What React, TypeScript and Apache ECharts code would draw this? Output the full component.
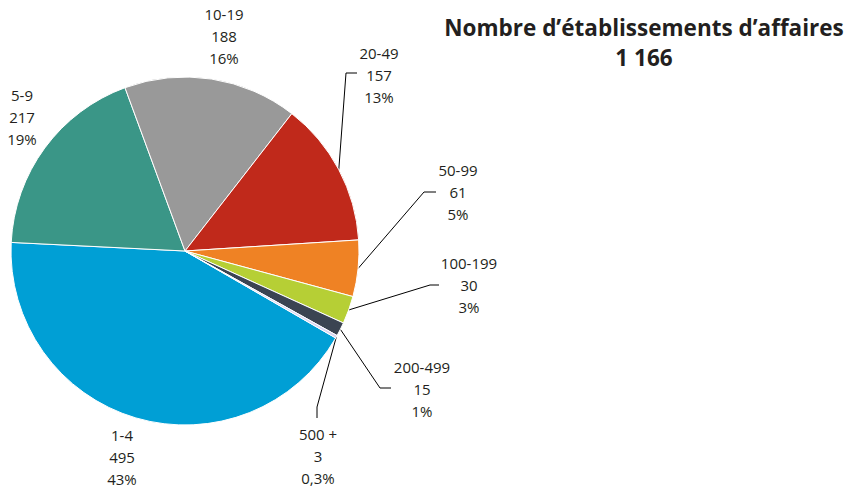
import React, { useEffect, useRef } from "react";
import * as echarts from "echarts";

const categories = ["1-4", "5-9", "10-19", "20-49", "50-99", "100-199", "200-499", "500 +"];
const values = [495, 217, 188, 157, 61, 30, 15, 3];
const pctLabels = ["43%", "19%", "16%", "13%", "5%", "3%", "1%", "0,3%"];
const colors = ["#009fd5", "#3a9687", "#999999", "#c0291b", "#ef8224", "#b6cf35", "#3b4452", "#d8d6f2"];
const titleText = "Nombre d’établissements d’affaires";
const totalText = "1 166";

// label placement (layout only)
const labelPos: Array<{ x: number; y: number; line?: number[][] }> = [
  { x: 122, y: 457 },
  { x: 22, y: 117 },
  { x: 224, y: 36 },
  { x: 379, y: 75, line: [[346, 73], [357, 73]] },
  { x: 458, y: 192, line: [[424, 192], [436, 192]] },
  { x: 469, y: 285, line: [[430, 285], [439, 285]] },
  { x: 422, y: 389, line: [[380, 388], [391, 388]] },
  { x: 318, y: 456, line: [[317, 407], [317, 418]] },
];

export default function App() {
  const ref = useRef<HTMLDivElement>(null);
  useEffect(() => {
    document.body.style.margin = "0";
    const chart = echarts.init(ref.current!, null, { renderer: "svg" });
    const font = "'Open Sans', sans-serif";
    chart.setOption({
      animation: false,
      title: {
        text: titleText + "\n" + totalText,
        left: 639,
        top: 7,
        textAlign: "center",
        textStyle: { fontFamily: font, fontWeight: "bold", fontSize: 22.5, lineHeight: 30, color: "#231f20" },
      },
      series: [
        {
          type: "pie",
          center: [185, 251],
          radius: [0, 174],
          startAngle: 330,
          clockwise: true,
          avoidLabelOverlap: false,
          itemStyle: { borderColor: "#ffffff", borderWidth: 1 },
          label: {
            show: true,
            position: "outside",
            fontFamily: font,
            fontSize: 15,
            lineHeight: 22,
            color: "#231f20",
            align: "center",
            formatter: (p: any) => `${p.name}\n${p.value}\n${pctLabels[p.dataIndex]}`,
          },
          labelLine: { show: true, lineStyle: { color: "#000000", width: 1 }, length: 10, length2: 10 },
          labelLayout: (params: any) => {
            const lp = labelPos[params.dataIndex];
            const res: any = { x: lp.x, y: lp.y, align: "center", verticalAlign: "middle" };
            if (lp.line && params.labelLinePoints) {
              res.labelLinePoints = [params.labelLinePoints[0], lp.line[0], lp.line[1]];
            }
            return res;
          },
          data: categories.map((c, i) => ({
            name: c,
            value: values[i],
            itemStyle: { color: colors[i] },
            labelLine: { show: i >= 3 },
          })),
        },
      ],
    });
    return () => chart.dispose();
  }, []);
  return <div ref={ref} style={{ width: 848, height: 490 }} />;
}
